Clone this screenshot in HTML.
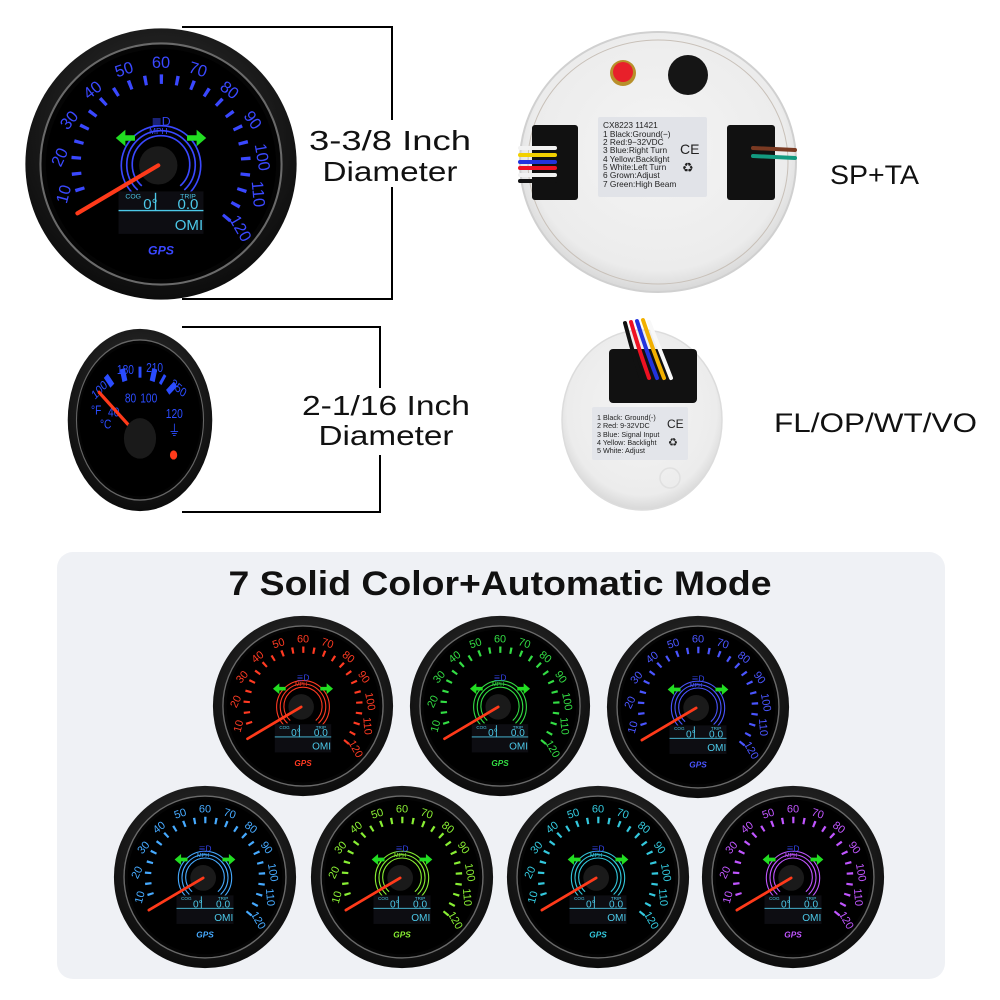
<!DOCTYPE html>
<html><head><meta charset="utf-8"><style>
html,body{margin:0;padding:0;background:#fff;}
svg{display:block;font-family:"Liberation Sans",sans-serif;}
</style></head><body>
<svg width="1000" height="1000" viewBox="0 0 1000 1000" xmlns="http://www.w3.org/2000/svg">
<defs>
<radialGradient id="rim" cx="50%" cy="40%" r="60%">
<stop offset="0" stop-color="#3a3a3a"/><stop offset="1" stop-color="#0c0c0c"/>
</radialGradient>
<radialGradient id="wh" cx="50%" cy="45%" r="55%">
<stop offset="0" stop-color="#f4f4f4"/><stop offset="0.85" stop-color="#ececec"/><stop offset="1" stop-color="#d8d8d8"/>
</radialGradient>
<symbol id="g" viewBox="-100 -100 200 200">
<circle r="99" fill="url(#rim)"/>
<circle r="88" fill="#050505" stroke="#6a6a6a" stroke-width="1.5"/>
<circle r="84" fill="#000"/>
<path d="M-58.3,21.2 A62,62 0 1 1 46.8,40.7" fill="none" stroke="currentColor" stroke-width="7" stroke-dasharray="2.4 9.23" stroke-dashoffset="-1.7"/>
<g fill="currentColor" font-size="12" text-anchor="middle" font-family="Liberation Sans,sans-serif">
<text x="-71" y="26" transform="rotate(-75 -71 22)">10</text>
<text x="-74" y="-1" transform="rotate(-65 -74 -5)">20</text>
<text x="-67" y="-28" transform="rotate(-50 -67 -32)">30</text>
<text x="-50" y="-50" transform="rotate(-38 -50 -54)">40</text>
<text x="-27" y="-65" transform="rotate(-18 -27 -69)">50</text>
<text x="0" y="-70">60</text>
<text x="27" y="-65" transform="rotate(18 27 -69)">70</text>
<text x="50" y="-50" transform="rotate(38 50 -54)">80</text>
<text x="67" y="-28" transform="rotate(55 67 -32)">90</text>
<text x="74" y="-1" transform="rotate(80 74 -5)">100</text>
<text x="71" y="26" transform="rotate(85 71 22)">110</text>
<text x="58" y="51" transform="rotate(60 58 47)">120</text>
</g>
<g fill="none" stroke="currentColor" stroke-width="1.2">
<path d="M-14,16 A21,21 0 1 1 14,16"/>
<path d="M-17,19 A25,25 0 1 1 17,19"/>
<path d="M-20,22 A29,29 0 1 1 20,22"/>
</g>
<text x="-2" y="-22" font-size="6" fill="currentColor" text-anchor="middle">MPH</text>
<circle cx="-2" cy="1" r="14" fill="#1a1a1a"/>
<text x="0" y="-28" font-size="9" fill="#3344ee" text-anchor="middle">≣D</text>
<path d="M-33,-19 l7,-6 v4 h7 v4 h-7 v4z" fill="#22dd22"/>
<path d="M33,-19 l-7,-6 v4 h-7 v4 h7 v4z" fill="#22dd22"/>
<rect x="-31" y="20" width="62" height="31" fill="#0d0d12"/>
<line x1="-31" y1="34" x2="31" y2="34" stroke="#4cc8e8" stroke-width="1"/>
<line x1="-4" y1="21" x2="-4" y2="34" stroke="#4cc8e8" stroke-width="1"/>
<g fill="#4cc8e8" font-family="Liberation Sans,sans-serif">
<text x="-26" y="25" font-size="5">COG</text>
<text x="14" y="25" font-size="5">TRIP</text>
<text x="-13" y="33" font-size="11">0°</text>
<text x="12" y="33" font-size="11">0.0</text>
<text x="10" y="48" font-size="11">OMI</text>
</g>
<line x1="-61" y1="36" x2="-2" y2="1" stroke="#ff3a1a" stroke-width="3" stroke-linecap="round"/>
<text x="0" y="66" font-size="9" font-style="italic" font-weight="bold" fill="currentColor" text-anchor="middle">GPS</text>
</symbol>
</defs>

<use href="#g" x="24" y="27" width="274" height="274" style="color:#3a48ff"/>
<g stroke="#000" stroke-width="2" fill="none">
<polyline points="182,27 392,27 392,120"/>
<polyline points="392,187 392,299 182,299"/>
<polyline points="182,327 380,327 380,388"/>
<polyline points="380,455 380,512 182,512"/>
</g>
<g font-size="28" fill="#111" text-anchor="middle">
<text x="390" y="150" textLength="162" lengthAdjust="spacingAndGlyphs">3-3/8 Inch</text>
<text x="390" y="181" textLength="135" lengthAdjust="spacingAndGlyphs">Diameter</text>
<text x="386" y="415" textLength="168" lengthAdjust="spacingAndGlyphs">2-1/16 Inch</text>
<text x="386" y="445" textLength="135" lengthAdjust="spacingAndGlyphs">Diameter</text>
</g>
<text x="830" y="184" font-size="27" fill="#111" textLength="89" lengthAdjust="spacingAndGlyphs">SP+TA</text>
<text x="774" y="432" font-size="27" fill="#111" textLength="203" lengthAdjust="spacingAndGlyphs">FL/OP/WT/VO</text>

<g transform="translate(140,420) scale(0.73,0.92)">
<circle r="99" fill="url(#rim)"/>
<circle r="87" fill="#050505" stroke="#666" stroke-width="1.5"/>
<circle r="83" fill="#000"/>
<g fill="#2b4cff">
<rect x="-46" y="-50" width="7" height="14" transform="rotate(-40 -42 -43)"/>
<rect x="-26" y="-56" width="7" height="14" transform="rotate(-15 -22 -49)"/>
<rect x="-2" y="-58" width="4" height="12"/>
<rect x="15" y="-56" width="7" height="14" transform="rotate(15 18 -49)"/>
<rect x="29" y="-50" width="4" height="12" transform="rotate(35 31 -44)"/>
<rect x="40" y="-42" width="7" height="14" transform="rotate(50 43 -35)"/>
</g>
<g fill="#2b4cff" font-size="14" text-anchor="middle">
<text x="-56" y="-28" transform="rotate(-40 -56 -33)">100</text>
<text x="-20" y="-50">180</text>
<text x="20" y="-52">210</text>
<text x="53" y="-30" transform="rotate(35 53 -35)">250</text>
<text x="-13" y="-19">80</text>
<text x="12" y="-19">100</text>
<text x="47" y="-2">120</text>
<text x="-60" y="-6">°F</text>
<text x="-47" y="9">°C</text>
<text x="-36" y="-4">40</text>
<text x="47" y="17" font-size="16">⏚</text>
</g>
<line x1="-56" y1="-30" x2="-6" y2="14" stroke="#ff3a1a" stroke-width="4" stroke-linecap="round"/>
<circle cx="0" cy="20" r="22" fill="#1a1a1a"/>
<circle cx="46" cy="38" r="5" fill="#ff3a1a"/>
</g>

<ellipse cx="658" cy="162" rx="138" ry="130" fill="url(#wh)" stroke="#d0d0d0" stroke-width="2"/>
<ellipse cx="658" cy="162" rx="130" ry="122" fill="none" stroke="#c8c0b8" stroke-width="1"/>
<circle cx="623" cy="73" r="13" fill="#b8902a"/>
<circle cx="623" cy="72" r="10" fill="#e8202a"/>
<circle cx="688" cy="75" r="20" fill="#151515"/>
<rect x="532" y="125" width="46" height="75" rx="3" fill="#111"/>
<rect x="727" y="125" width="48" height="75" rx="3" fill="#111"/>
<g stroke-width="4" stroke-linecap="round">
<line x1="520" y1="148" x2="555" y2="148" stroke="#f2f2f2"/>
<line x1="520" y1="155" x2="555" y2="155" stroke="#f2d000"/>
<line x1="520" y1="162" x2="555" y2="162" stroke="#2233dd"/>
<line x1="520" y1="168" x2="555" y2="168" stroke="#ee1122"/>
<line x1="520" y1="175" x2="555" y2="175" stroke="#f2f2f2"/>
<line x1="520" y1="181" x2="555" y2="181" stroke="#111"/>
<line x1="753" y1="148" x2="795" y2="150" stroke="#7a3a22"/>
<line x1="753" y1="156" x2="795" y2="158" stroke="#139a80"/>
</g>
<rect x="598" y="117" width="109" height="80" rx="2" fill="#e1e3e8"/>
<g font-size="8.3" fill="#222">
<text x="603" y="128">CX8223    11421</text>
<text x="603" y="137">1 Black:Ground(−)</text>
<text x="603" y="145">2 Red:9−32VDC</text>
<text x="603" y="153">3 Blue:Right Turn</text>
<text x="603" y="162">4 Yellow:Backlight</text>
<text x="603" y="170">5 White:Left Turn</text>
<text x="603" y="178">6 Grown:Adjust</text>
<text x="603" y="187">7 Green:High Beam</text>
<text x="680" y="154" font-size="14">CE</text>
<text x="682" y="172" font-size="13">♻</text>
</g>

<ellipse cx="642" cy="420" rx="80" ry="90" fill="url(#wh)" stroke="#dcdcdc" stroke-width="1.5"/>
<rect x="609" y="349" width="88" height="54" rx="4" fill="#111"/>
<g fill="none" stroke-width="4" stroke-linecap="round">
<path d="M625,323 Q632,350 641,378" stroke="#111"/>
<path d="M631,322 Q639,350 649,378" stroke="#ee1122"/>
<path d="M637,321 Q646,350 657,378" stroke="#2233dd"/>
<path d="M643,320 Q653,350 664,378" stroke="#f2b000"/>
<path d="M649,322 Q660,350 671,378" stroke="#f8f8f8"/>
</g>
<rect x="592" y="407" width="96" height="53" rx="2" fill="#e3e5ea"/>
<g font-size="7.2" fill="#222">
<text x="597" y="420">1 Black: Ground(-)</text>
<text x="597" y="428">2 Red: 9-32VDC</text>
<text x="597" y="437">3 Blue: Signal Input</text>
<text x="597" y="445">4 Yellow: Backlight</text>
<text x="597" y="453">5 White: Adjust</text>
<text x="667" y="428" font-size="12">CE</text>
<text x="668" y="446" font-size="11">♻</text>
</g>
<circle cx="670" cy="478" r="10" fill="none" stroke="#e0e0e0" stroke-width="1.5"/>

<rect x="57" y="552" width="888" height="427" rx="16" fill="#eff1f5"/>
<text x="500" y="595" font-size="34" font-weight="bold" fill="#111" text-anchor="middle" textLength="543" lengthAdjust="spacingAndGlyphs">7 Solid Color+Automatic Mode</text>
<use href="#g" x="212" y="615" width="182" height="182" style="color:#ff3a22"/>
<use href="#g" x="409" y="615" width="182" height="182" style="color:#33dd44"/>
<use href="#g" x="606" y="615" width="184" height="184" style="color:#4a55ff"/>
<use href="#g" x="113" y="785" width="184" height="184" style="color:#46aaff"/>
<use href="#g" x="310" y="785" width="184" height="184" style="color:#88ee33"/>
<use href="#g" x="506" y="785" width="184" height="184" style="color:#33c8dd"/>
<use href="#g" x="701" y="785" width="184" height="184" style="color:#c055ff"/>
</svg>
</body></html>
